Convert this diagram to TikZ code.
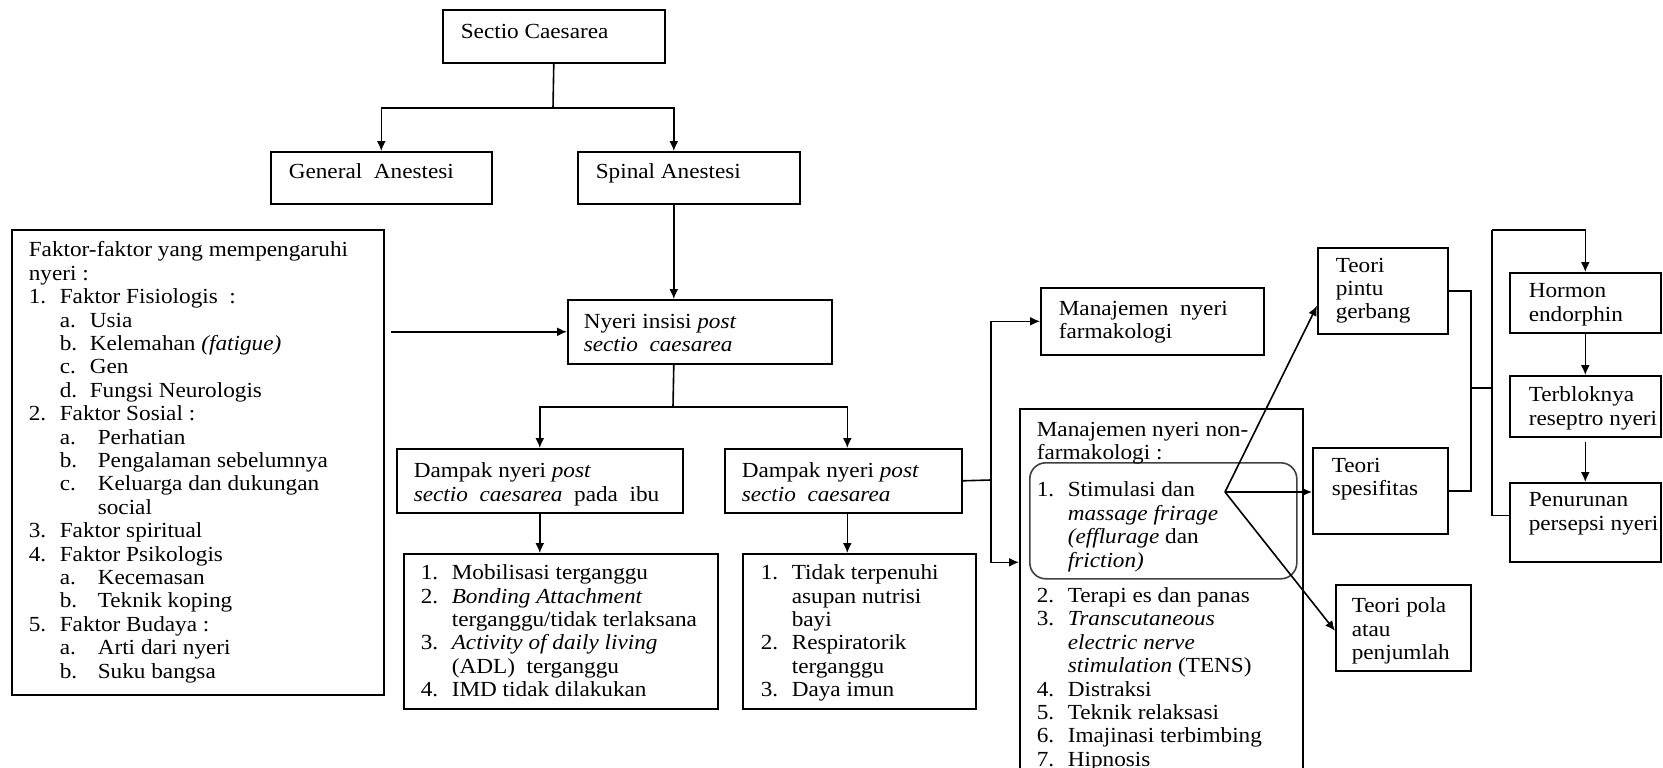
\documentclass[tikz,border=0pt]{standalone}
\usepackage{fontspec}
\setmainfont{Liberation Serif}[FakeStretch=1.08]
\usepackage{tikz}
\usetikzlibrary{arrows}
\usetikzlibrary{arrows.meta}
\usetikzlibrary{calc}

\newcommand{\nomor}[1]{\makebox[31pt][l]{#1}}
\newcommand{\huruf}[2][30pt]{\makebox[#1][l]{#2}}

\begin{document}
\begin{tikzpicture}[x=1pt,y=-1pt,line width=1.6pt,
  kotak/.style={draw, anchor=north west, inner sep=0pt},
  teks/.style={anchor=north west, inner sep=0pt, align=left, font=\fontsize{21.5}{23.4}\selectfont},
  panah/.style={-{Latex[length=10pt,width=9pt]}}]

\useasboundingbox (0,0) rectangle (1663,768);

% kotak
\node[kotak, minimum width=222pt, minimum height=53pt] (sc) at (442,9) {};
\node[kotak, minimum width=221pt, minimum height=52pt] (ga) at (270,151) {};
\node[kotak, minimum width=222pt, minimum height=52pt] (sa) at (577,151) {};
\node[kotak, minimum width=372pt, minimum height=465pt] (faktor) at (11,229) {};
\node[kotak, minimum width=264pt, minimum height=64pt] (nyeri) at (567,299) {};
\node[kotak, minimum width=286pt, minimum height=64pt] (dl) at (396,448) {};
\node[kotak, minimum width=237pt, minimum height=64pt] (dr) at (724,448) {};
\node[kotak, minimum width=314pt, minimum height=155pt] (ll) at (403,553) {};
\node[kotak, minimum width=233pt, minimum height=155pt] (lr) at (742,553) {};
\node[kotak, minimum width=223pt, minimum height=67pt] (farm) at (1040,287) {};
\node[kotak, minimum width=283pt, minimum height=367pt] (nonfarm) at (1019,408) {};
\node[kotak, draw=black!75, rounded corners=16pt, minimum width=267pt, minimum height=116pt] (bulat) at (1029,462) {};
\node[kotak, minimum width=130pt, minimum height=86pt] (pintu) at (1317,247) {};
\node[kotak, minimum width=135pt, minimum height=86pt] (spes) at (1312,447) {};
\node[kotak, minimum width=135pt, minimum height=86pt] (pola) at (1335,584) {};
\node[kotak, minimum width=151pt, minimum height=60pt] (hormon) at (1509,272) {};
\node[kotak, minimum width=151pt, minimum height=61pt] (blok) at (1509,375) {};
\node[kotak, minimum width=151pt, minimum height=79pt] (turun) at (1509,482) {};

% teks
\node[teks] (t-sc) at (460,23) {Sectio Caesarea};
\node[teks] (t-ga) at (288,163) {General\ \ Anestesi};
\node[teks] (t-sa) at (595,163) {Spinal Anestesi};
\node[teks] (t-faktor) at (28,241) {Faktor-faktor yang mempengaruhi\\
nyeri :\\
\nomor{1.}Faktor Fisiologis\ \ :\\
\hspace{31pt}\huruf{a.}Usia\\
\hspace{31pt}\huruf{b.}Kelemahan \textit{(fatigue)}\\
\hspace{31pt}\huruf{c.}Gen\\
\hspace{31pt}\huruf{d.}Fungsi Neurologis\\
\nomor{2.}Faktor Sosial :\\
\hspace{31pt}\huruf[38pt]{a.}Perhatian\\
\hspace{31pt}\huruf[38pt]{b.}Pengalaman sebelumnya\\
\hspace{31pt}\huruf[38pt]{c.}Keluarga dan dukungan\\
\hspace{69pt}social\\
\nomor{3.}Faktor spiritual\\
\nomor{4.}Faktor Psikologis\\
\hspace{31pt}\huruf[38pt]{a.}Kecemasan\\
\hspace{31pt}\huruf[38pt]{b.}Teknik koping\\
\nomor{5.}Faktor Budaya :\\
\hspace{31pt}\huruf[38pt]{a.}Arti dari nyeri\\
\hspace{31pt}\huruf[38pt]{b.}Suku bangsa};
\node[teks] (t-nyeri) at (583,313) {Nyeri insisi \textit{post}\\ \textit{sectio\ \ caesarea}};
\node[teks] (t-dl) at (413,462) {Dampak nyeri \textit{post}\\ \textit{sectio\ \ caesarea}\ \ pada\ \ ibu};
\node[teks] (t-dr) at (741,462) {Dampak nyeri \textit{post}\\ \textit{sectio\ \ caesarea}};
\node[teks] (t-ll) at (420,564) {\nomor{1.}Mobilisasi terganggu\\
\nomor{2.}\textit{Bonding Attachment}\\
\hspace{31pt}terganggu/tidak terlaksana\\
\nomor{3.}\textit{Activity of daily living}\\
\hspace{31pt}(ADL)\ \ terganggu\\
\nomor{4.}IMD tidak dilakukan};
\node[teks] (t-lr) at (760,564) {\nomor{1.}Tidak terpenuhi\\
\hspace{31pt}asupan nutrisi\\
\hspace{31pt}bayi\\
\nomor{2.}Respiratorik\\
\hspace{31pt}terganggu\\
\nomor{3.}Daya imun};
\node[teks] (t-farm) at (1058,300) {Manajemen\ \ nyeri\\ farmakologi};
\node[teks] (t-nonfarm) at (1036,421) {Manajemen nyeri non-\\
farmakologi :\\[14pt]
\nomor{1.}Stimulasi dan\\
\hspace{31pt}\textit{massage frirage}\\
\hspace{31pt}\textit{(efflurage} dan\\
\hspace{31pt}\textit{friction)}\\[12pt]
\nomor{2.}Terapi es dan panas\\
\nomor{3.}\textit{Transcutaneous}\\
\hspace{31pt}\textit{electric nerve}\\
\hspace{31pt}\textit{stimulation} (TENS)\\
\nomor{4.}Distraksi\\
\nomor{5.}Teknik relaksasi\\
\nomor{6.}Imajinasi terbimbing\\
\nomor{7.}Hipnosis};
\node[teks] (t-pintu) at (1335,257) {Teori\\ pintu\\ gerbang};
\node[teks] (t-spes) at (1331,457) {Teori\\ spesifitas};
\node[teks] (t-pola) at (1351,597) {Teori pola\\ atau\\ penjumlah};
\node[teks] (t-hormon) at (1528,283) {Hormon\\ endorphin};
\node[teks] (t-blok) at (1528,386) {Terbloknya\\ reseptro nyeri};
\node[teks] (t-turun) at (1528,492) {Penurunan\\ persepsi nyeri};

% panah
\coordinate (c1) at (553,108);
\draw (sc.south) -- (c1);
\draw[panah] (c1) -| (ga.north);
\draw[panah] (c1) -| ([xshift=-15pt]sa.north);
\draw[panah] ([xshift=-15pt]sa.south) -- ([xshift=-15pt]sa.south |- nyeri.north);
\draw[panah] ([xshift=6pt]faktor.east |- nyeri.west) -- (nyeri.west);

\coordinate (c2) at (673,407);
\draw ([xshift=-15pt]sa.south |- nyeri.south) -- (c2);
\draw[panah] (c2) -| (dl.north);
\draw[panah] (c2) -| ([xshift=4pt]dr.north);
\draw[panah] (dl.south) -- (dl.south |- ll.north);
\draw[panah] ([xshift=4pt]dr.south) -- ([xshift=4pt]dr.south |- lr.north);

\coordinate (c3) at (991,480);
\draw (dr.east) -- (c3);
\draw[panah] (c3) |- (farm.west);
\draw[panah] (c3) |- ([yshift=30pt]nonfarm.west);

\coordinate (kipas) at (1225,492);
\draw[panah] (kipas) -- ([yshift=-15pt]pintu.west);
\draw[panah] (kipas) -- (kipas -| spes.west);
\draw[panah] (kipas) -- ([yshift=-3pt]pola.west);

\coordinate (c4) at (1471,388);
\coordinate (c5) at (1492,388);
\coordinate (c6) at (1492,230);
\draw (pintu.east) -| (c4) |- (spes.east);
\draw (c4) -- (c5);
\draw[panah] (c6) -| (hormon.north);
\draw (c6) |- ([yshift=7pt]turun.west);
\draw[panah] (hormon.south) -- (blok.north);
\draw[panah] ([yshift=-4pt]blok.south) -- (turun.north);

\end{tikzpicture}
\end{document}
